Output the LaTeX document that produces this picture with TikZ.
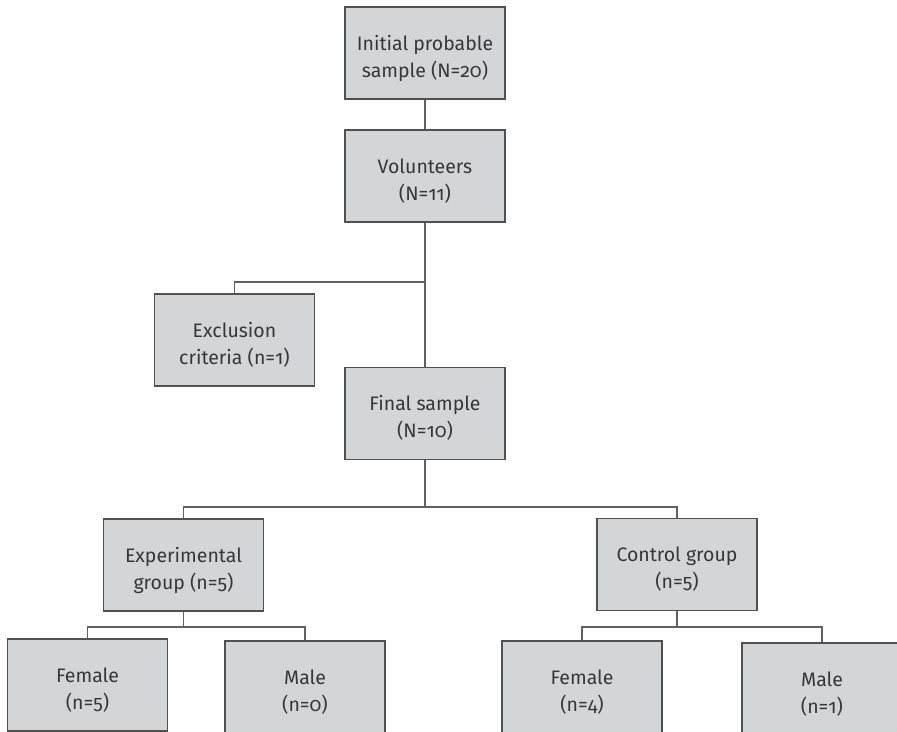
\documentclass[tikz,border=0pt]{standalone}
\usepackage{fontspec}
\setmainfont[Numbers=OldStyle]{Fira Sans}
\usetikzlibrary{positioning, calc}
\definecolor{boxFill}{RGB}{212, 213, 215}
\definecolor{boxLine}{RGB}{80, 80, 80}
\definecolor{textGray}{RGB}{55, 55, 55}
\tikzstyle{stage} = [rectangle, minimum width=160pt, minimum height=92pt, inner sep=0pt, align=center, text height=48pt, text depth=0pt, draw=boxLine, line width=1.3pt, fill=boxFill, text=textGray, font=\fontsize{19.5}{27}\selectfont]
\tikzstyle{link} = [draw=boxLine!90, line width=1.1pt]

\begin{document}
\begin{tikzpicture}[x=1pt, y=-1pt]
			\useasboundingbox (0,0) rectangle (897,731);
			\clip (0,0) rectangle (897,731);
			\node (init) [stage] at (425,53) {Initial probable\\sample (N=20)};
			\node (vol) [stage] at (425,176) {Volunteers\\(N=11)};
			\node (excl) [stage] at (234.5,340) {Exclusion\\criteria (n=1)};
			\node (final) [stage] at (425,413.5) {Final sample\\(N=10)};
			\node (exp) [stage] at (183.5,565) {Experimental\\group (n=5)};
			\node (ctrl) [stage] at (677,564.5) {Control group\\(n=5)};
			\node (expF) [stage] at (87.5,685) {Female\\(n=5)};
			\node (expM) [stage] at (305,687) {Male\\(n=0)};
			\node (ctrlF) [stage] at (582,687) {Female\\(n=4)};
			\node (ctrlM) [stage] at (822,689) {Male\\(n=1)};

			\coordinate (exclSplit) at (425,282);
			\coordinate (groupSplit) at (425,507);
			\coordinate (expSplit) at (183.5,627);
			\coordinate (ctrlSplit) at (677,627);

			\draw[link] (init) -- (vol);
			\draw[link] (vol) -- (final);
			\draw[link] (excl.north) |- (exclSplit);
			\draw[link] (final) -- (groupSplit);
			\draw[link] (exp.north) |- (groupSplit) -| (ctrl.north);
			\draw[link] (exp) -- (expSplit);
			\draw[link] (expF.north) |- (expSplit) -| (expM.north);
			\draw[link] (ctrl) -- (ctrlSplit);
			\draw[link] (ctrlF.north) |- (ctrlSplit) -| (ctrlM.north);
\end{tikzpicture}
\end{document}
